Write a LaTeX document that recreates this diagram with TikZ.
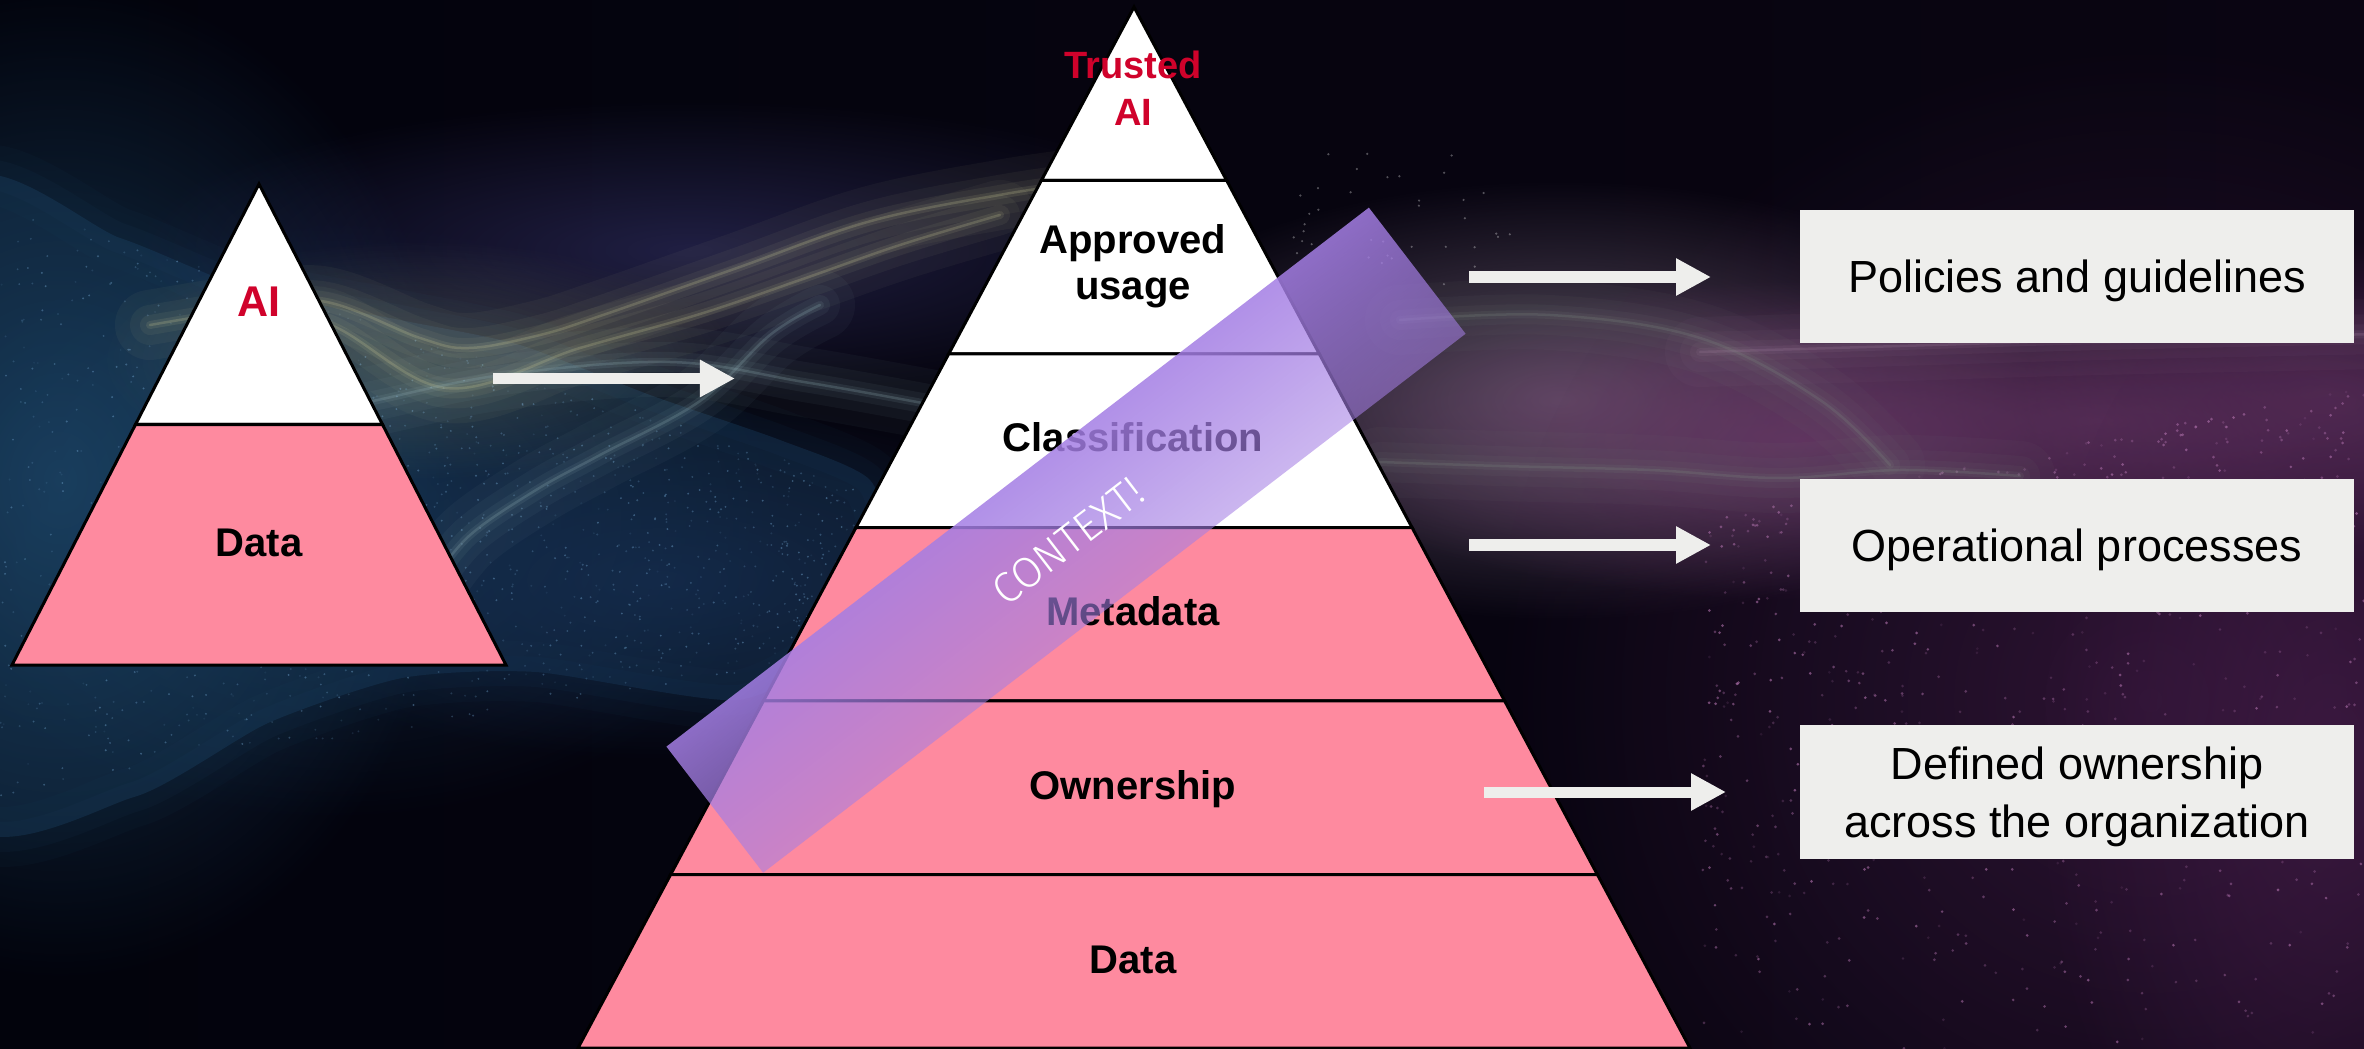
\documentclass[tikz,border=0pt]{standalone}
\usepackage{fontspec}
\setmainfont{Liberation Sans}
\newfontfamily\ctxfont{Fira Sans Light}
\usetikzlibrary{fadings,calc,arrows.meta}

\definecolor{bgL}{HTML}{02030C}
\definecolor{bgR}{HTML}{0A0512}
\definecolor{pinkL}{HTML}{FE8A9F}
\definecolor{redT}{HTML}{D0022B}
\definecolor{boxG}{HTML}{EEEEEC}
\definecolor{bandP}{HTML}{A47EE4}
\definecolor{blueHaze}{HTML}{1E4A6E}
\definecolor{blueDeep}{HTML}{162E52}
\definecolor{purpleHaze}{HTML}{3C3A78}
\definecolor{strandY}{HTML}{C0C090}
\definecolor{strandT}{HTML}{8CAAB0}
\definecolor{mauve}{HTML}{6E3F6C}
\definecolor{greyMauve}{HTML}{6C5C72}
\definecolor{greyGreen}{HTML}{7A867E}
\definecolor{dotBlue}{HTML}{78AEDA}
\definecolor{dotPurple}{HTML}{B474B0}
\definecolor{violetHaze}{HTML}{4A1F4E}

\tikzfading[name=bandfade, top color=transparent!0, bottom color=transparent!58]
\tikzfading[name=glowfade, inner color=transparent!0, outer color=transparent!100]

\newcommand\bgglow[5]{\fill[#5, path fading=glowfade] ({#1-2*#3},{#2-2*#4}) rectangle ({#1+2*#3},{#2+2*#4});}

\tikzset{
  layer/.style={draw=black, line width=0.03cm, line join=miter},
  lbl/.style={font=\fontsize{11.38pt}{13.09pt}\selectfont\bfseries, text=black, anchor=base, inner sep=0pt, align=center},
  redlbl/.style={lbl, text=redT},
  infobox/.style={fill=boxG, minimum width=5.54cm, minimum height=1.33cm, inner sep=0pt, align=center,
     font=\fontsize{12.8pt}{16.5pt}\selectfont, text=black, text height=0.32cm, text depth=0pt},
  blockarrow/.style={draw=boxG, line width=0.11cm, -{Triangle[length=0.35cm, width=0.35cm]}},
  glowline/.style={line cap=round, line join=round},
}

\begin{document}
\begin{tikzpicture}[x=0.01cm, y=-0.01cm]
\useasboundingbox (0,0) rectangle (2364,1049);
\clip (0,0) rectangle (2364,1049);

% ---------- background ----------
\shade[left color=bgL, right color=bgR] (0,0) rectangle (2364,1049);

% left blue particle wave
\foreach \w/\o in {60/0.06, 30/0.08}{
  \draw[blueHaze, line width=\w*0.2845pt, opacity=\o, line join=round]
    plot[smooth cycle, tension=0.4] coordinates {
    (-40,196) (120,238) (250,290) (400,320) (520,345) (650,395) (780,440) (870,480)
    (890,560) (840,645) (737,700) (536,672) (402,678) (268,723) (134,797) (-40,808)};
}
\fill[blueHaze, opacity=0.32] plot[smooth cycle, tension=0.4] coordinates {
  (-40,196) (120,238) (250,290) (400,320) (520,345) (650,395) (780,440) (870,480)
  (890,560) (840,645) (737,700) (536,672) (402,678) (268,723) (134,797) (-40,808)};
\bgglow{60}{480}{200}{250}{blueHaze, fill opacity=.7}
\bgglow{330}{520}{230}{150}{blueHaze, fill opacity=.45}
\bgglow{660}{580}{230}{90}{blueDeep, fill opacity=.7}
\bgglow{690}{250}{280}{75}{purpleHaze, fill opacity=.5}
\bgglow{420}{360}{160}{60}{strandY, fill opacity=.22}

% right violet haze
\bgglow{1560}{400}{240}{110}{greyMauve, fill opacity=.8}
\bgglow{1800}{440}{260}{80}{mauve, fill opacity=.8}
\bgglow{2100}{420}{300}{70}{mauve, fill opacity=.6}
\bgglow{2330}{400}{160}{80}{mauve, fill opacity=.6}
\bgglow{2150}{700}{330}{330}{violetHaze, fill opacity=.55}
\bgglow{2330}{760}{150}{260}{violetHaze, fill opacity=.6}

% particles
\pgfmathsetseed{11}
\foreach \i in {1,...,1300}{
  \pgfmathsetmacro{\xx}{rnd*860}
  \pgfmathsetmacro{\yt}{200+0.33*\xx}
  \pgfmathsetmacro{\yy}{\yt+rnd*(798-0.17*\xx-\yt)}
  \pgfmathsetmacro{\oo}{0.08+0.35*rnd}
  \fill[dotBlue, opacity=\oo] (\xx,\yy) circle[radius=0.3pt];
}
\foreach \i in {1,...,750}{
  \pgfmathsetmacro{\xx}{1700+rnd*664}
  \pgfmathsetmacro{\yt}{520-0.2*(\xx-1700)}
  \pgfmathsetmacro{\yy}{\yt+(rnd^1.5)*(1049-\yt)}
  \pgfmathsetmacro{\oo}{0.12+0.5*rnd}
  \fill[dotPurple, opacity=\oo] (\xx,\yy) circle[radius=0.42pt];
}
\foreach \i in {1,...,40}{
  \pgfmathsetmacro{\xx}{1290+rnd*220}
  \pgfmathsetmacro{\yy}{150+rnd*140}
  \fill[white, opacity=0.3] (\xx,\yy) circle[radius=0.35pt];
}

% glowing ribbons
\foreach \w/\o in {70/0.05, 40/0.06, 20/0.08, 8/0.12, 2.5/0.25}{
  \draw[glowline, strandY, line width=\w*0.2845pt, opacity=\o]
    plot[smooth, tension=0.6] coordinates {(150,325) (230,312) (321,301) (420,338) (469,348) (540,335) (603,315) (737,268) (871,221) (1005,194) (1090,182)};
  \draw[glowline, strandY, line width=\w*0.2845pt, opacity=\o]
    plot[smooth, tension=0.6] coordinates {(230,345) (321,322) (446,388) (580,348) (700,314) (800,280) (900,245) (1000,215)};
  \draw[glowline, strandT, line width=\w*0.2845pt, opacity=\o]
    plot[smooth, tension=0.6] coordinates {(300,415) (368,402) (502,375) (670,362) (804,382) (917,402) (1000,418)};
  \draw[glowline, strandT, line width=\w*0.2845pt, opacity=\o]
    plot[smooth, tension=0.6] coordinates {(820,305) (770,335) (700,401) (600,455) (536,490) (469,536) (430,585)};
  \draw[glowline, greyGreen, line width=\w*0.2845pt, opacity=\o]
    plot[smooth, tension=0.6] coordinates {(1380,462) (1500,466) (1650,470) (1780,478) (1900,470) (2020,476)};
  \draw[glowline, greyGreen, line width=\w*0.2845pt, opacity=\o]
    plot[smooth, tension=0.6] coordinates {(1400,320) (1550,315) (1700,338) (1820,400) (1890,465)};
  \draw[glowline, mauve!70!white, line width=\w*0.2845pt, opacity=\o]
    plot[smooth, tension=0.6] coordinates {(1700,352) (1900,346) (2100,340) (2380,334)};
}

% ---------- left pyramid ----------
\coordinate (LA) at (259,184);
\coordinate (LBL) at (12,665);
\coordinate (LBR) at (506,665);
\coordinate (LML) at ($(LA)!0.5!(LBL)$);
\coordinate (LMR) at ($(LA)!0.5!(LBR)$);
\filldraw[layer, fill=white] (LA) -- (LML) -- (LMR) -- cycle;
\filldraw[layer, fill=pinkL] (LML) -- (LBL) -- (LBR) -- (LMR) -- cycle;
\node[redlbl, font=\fontsize{12.23pt}{14pt}\selectfont\bfseries] (lAI) at (259,317) {AI};
\node[lbl] (lData) at (259,556) {Data};

% ---------- big pyramid ----------
\coordinate (A) at (1134,7);
\coordinate (BL) at (578,1048);
\coordinate (BR) at (1690,1048);
\foreach \k in {1,...,5}{
  \coordinate (L\k) at ($(A)!\k/6!(BL)$);
  \coordinate (R\k) at ($(A)!\k/6!(BR)$);
}
\filldraw[layer, fill=white] (A) -- (L1) -- (R1) -- cycle;
\filldraw[layer, fill=white] (L1) -- (L2) -- (R2) -- (R1) -- cycle;
\filldraw[layer, fill=white] (L2) -- (L3) -- (R3) -- (R2) -- cycle;
\filldraw[layer, fill=pinkL] (L3) -- (L4) -- (R4) -- (R3) -- cycle;
\filldraw[layer, fill=pinkL] (L4) -- (L5) -- (R5) -- (R4) -- cycle;
\filldraw[layer, fill=pinkL] (L5) -- (BL) -- (BR) -- (R5) -- cycle;

\node[redlbl, font=\fontsize{10.81pt}{13.37pt}\selectfont\bfseries] (tAI) at (1133,126) {Trusted\\AI};
\node[lbl] (appr) at (1133,300) {Approved\\usage};
\node[lbl] (clas) at (1133,452) {Classification};
\node[lbl] (meta) at (1133,625) {Metadata};
\node[lbl] (own) at (1133,799) {Ownership};
\node[lbl] (data) at (1133,973) {Data};

% ---------- context band ----------
\coordinate (bandL) at (666.6,746.1);
\coordinate (bandTR) at (1369.6,206.7);
\coordinate (bandR) at (1466.4,332.9);
\coordinate (bandBL) at (763.4,872.3);
\fill[bandP, path fading=bandfade, fading transform={rotate=37.5, yscale=0.318}]
  (566.5,39.5) (1566.5,1039.5)
  (bandL) -- (bandTR) -- (bandR) -- (bandBL) -- cycle;
\node[rotate=37.5, text=white, inner sep=0pt, font=\ctxfont\fontsize{12.23pt}{14pt}\selectfont] (ctx) at (1068,541) {CONTEXT!};

% ---------- info boxes ----------
\node[infobox] (box1) at (2077,276.5) {Policies and guidelines};
\node[infobox] (box2) at (2077,545.5) {Operational processes};
\node[infobox, text height=0.9cm] (box3) at (2077,792) {Defined ownership\\across the organization};

% ---------- arrows ----------
\coordinate (a0s) at (493,378.5);
\coordinate (a0e) at (735,378.5);
\coordinate (a1s) at (1469,277);
\coordinate (a1e) at (1711,277);
\coordinate (a2s) at (1469,545);
\coordinate (a2e) at (1711,545);
\coordinate (a3s) at (1484,792);
\coordinate (a3e) at (1726,792);
\draw[blockarrow] (a0s) -- (a0e);
\draw[blockarrow] (a1s) -- (a1e);
\draw[blockarrow] (a2s) -- (a2e);
\draw[blockarrow] (a3s) -- (a3e);
\end{tikzpicture}
\end{document}
